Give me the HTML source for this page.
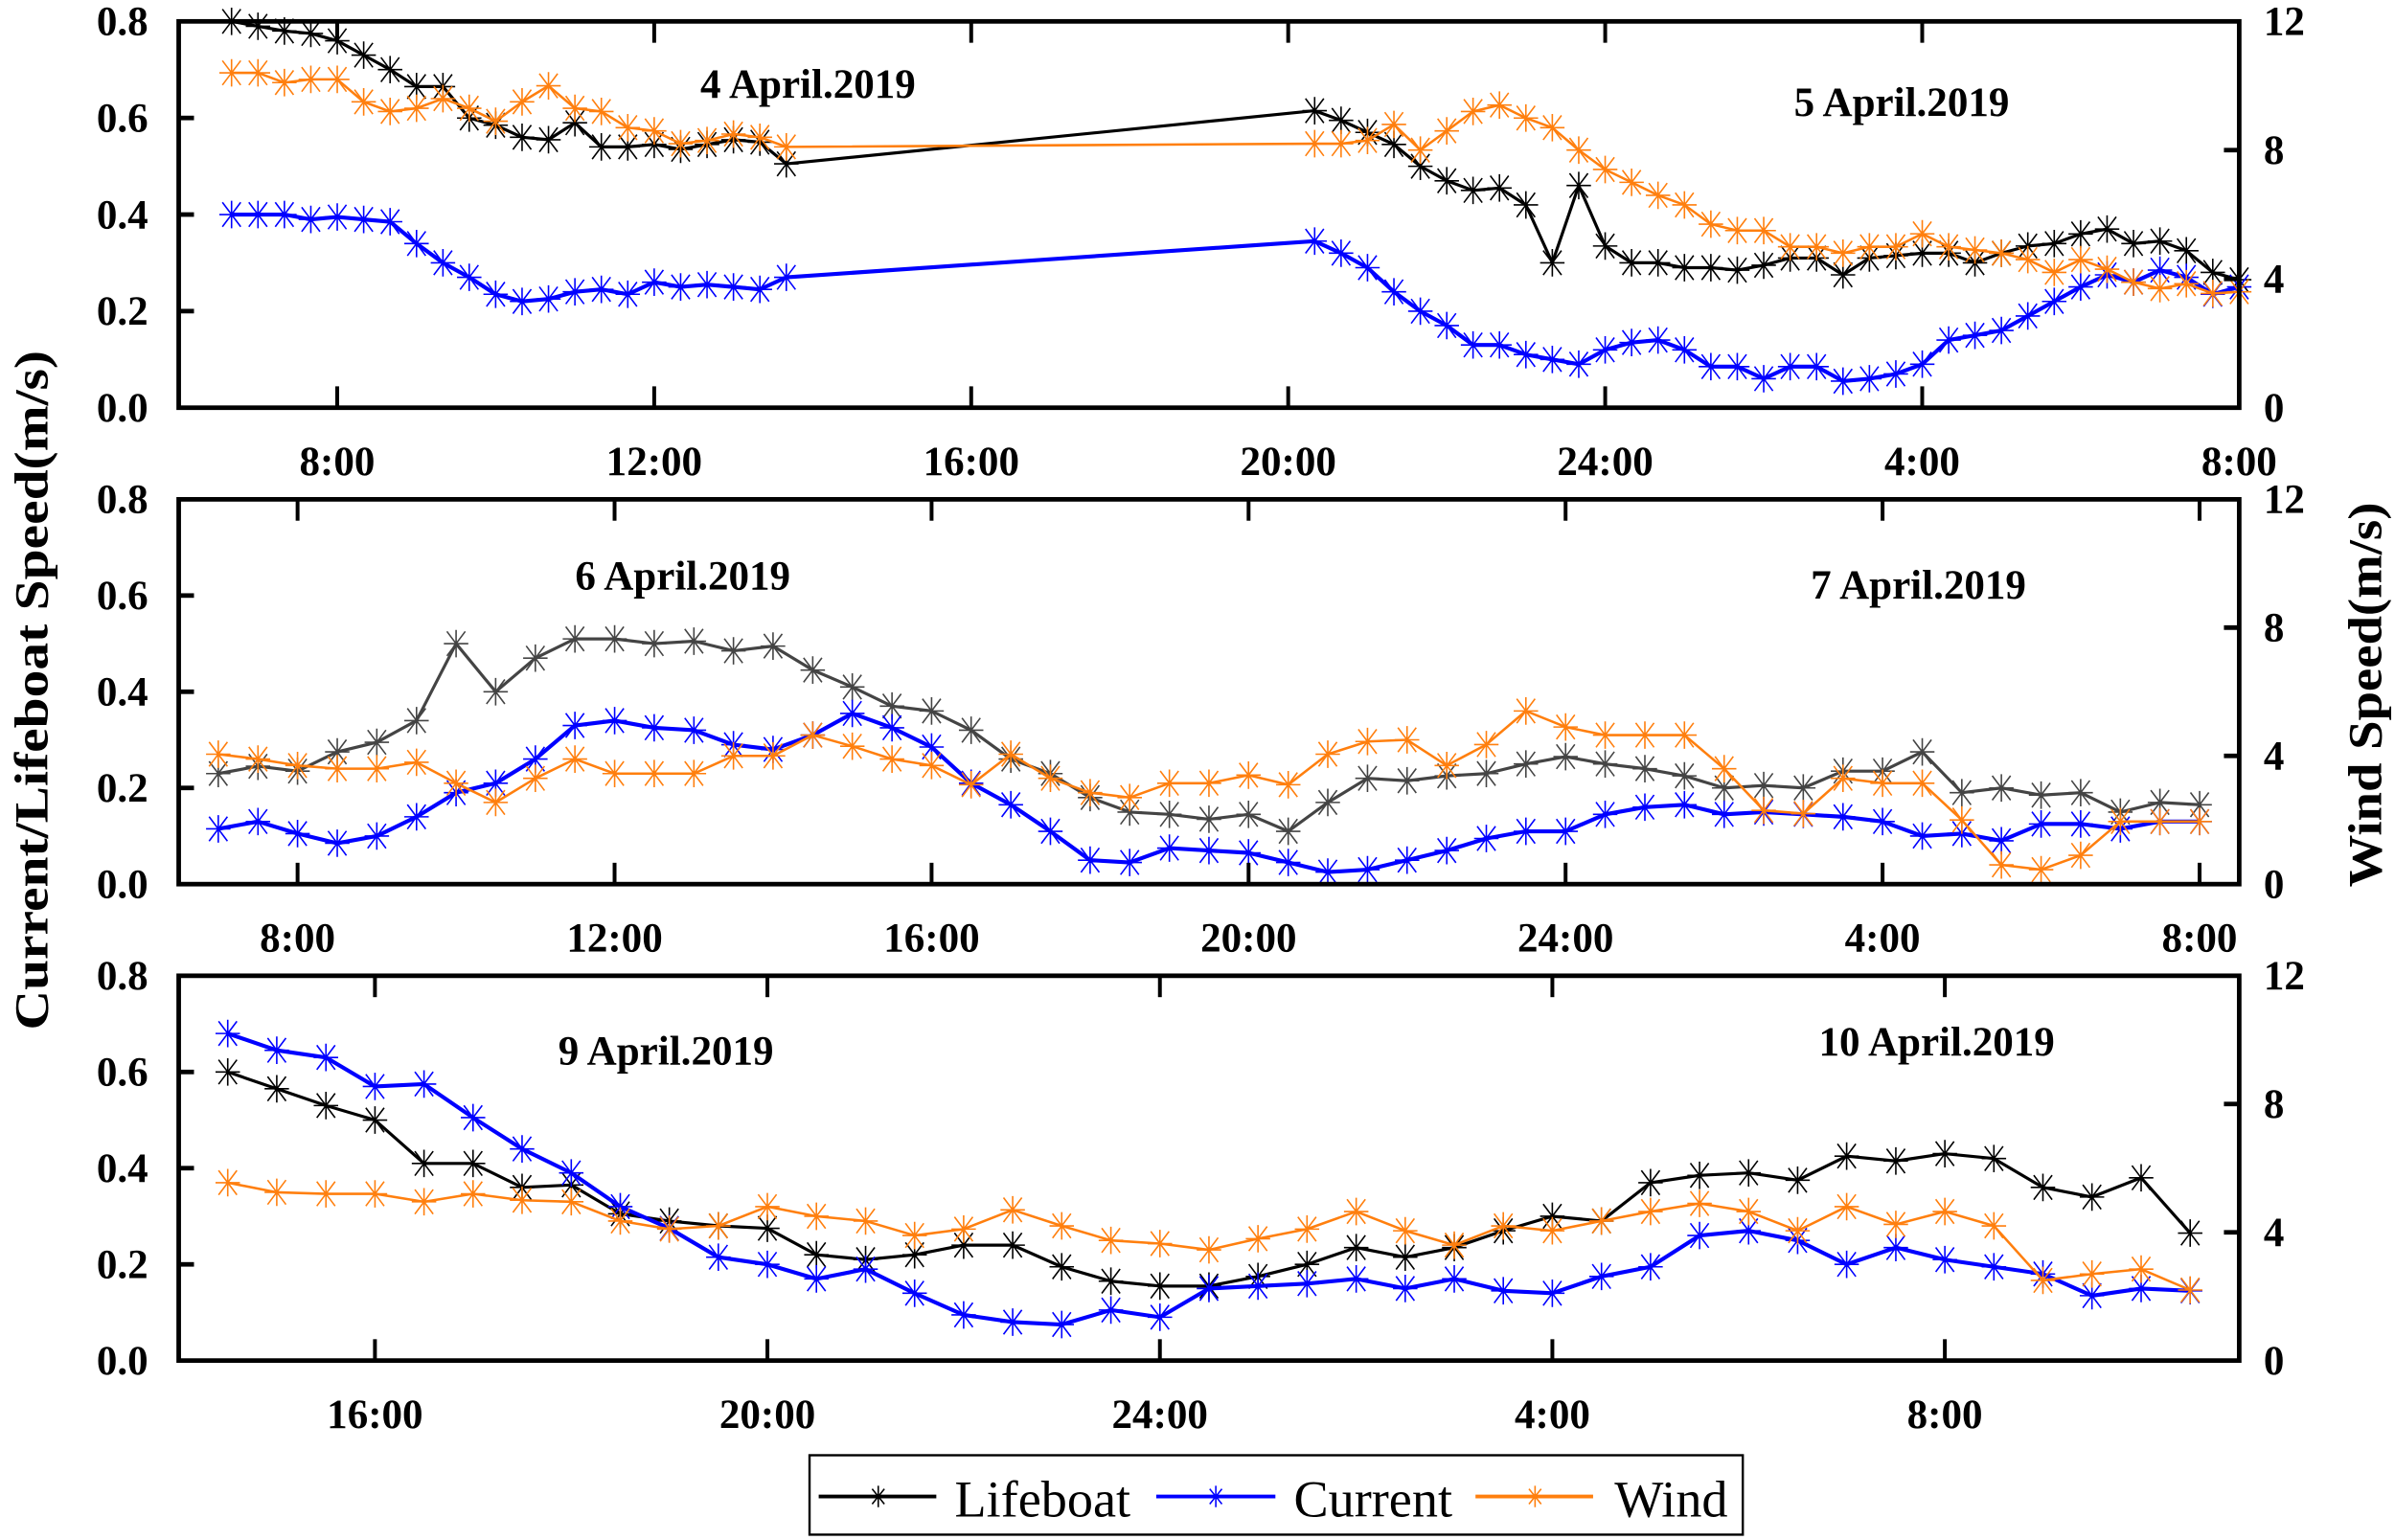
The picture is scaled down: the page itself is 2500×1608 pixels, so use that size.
<!DOCTYPE html>
<html><head><meta charset="utf-8"><style>
html,body{margin:0;padding:0;background:#fff;}
svg{display:block;}
text{font-family:"Liberation Serif",serif;}
</style></head><body>
<svg id="chart" xmlns="http://www.w3.org/2000/svg" width="2500" height="1608" viewBox="0 0 1568 1008.5" preserveAspectRatio="none">
<rect x="0" y="0" width="1568" height="1008.5" fill="#fff"/>
<g id="panels"></g>
<text x="0" y="0" transform="translate(31,452) rotate(-90)" text-anchor="middle" font-size="31" font-weight="bold" font-family="Liberation Serif, serif" textLength="445" lengthAdjust="spacingAndGlyphs">Current/Lifeboat Speed(m/s)</text>
<text x="0" y="0" transform="translate(1559,455) rotate(-90)" text-anchor="middle" font-size="31" font-weight="bold" font-family="Liberation Serif, serif" textLength="252" lengthAdjust="spacingAndGlyphs">Wind Speed(m/s)</text>
<g>
<rect x="530" y="953" width="611" height="52" fill="#fff" stroke="#000" stroke-width="1.5"/>
<g>
<line x1="536" y1="980" x2="613" y2="980" stroke="#000" stroke-width="2.5"/>
<path d="M575 973V987M571 975L579 985M579 975L571 985" stroke="#000" stroke-width="1"/>
<text x="625" y="993" font-size="34" font-family="Liberation Serif, serif">Lifeboat</text></g>
<g>
<line x1="757" y1="980" x2="835" y2="980" stroke="#0000ff" stroke-width="2.5"/>
<path d="M796 973V987M792 975L800 985M800 975L792 985" stroke="#0000ff" stroke-width="1"/>
<text x="847" y="993" font-size="34" font-family="Liberation Serif, serif">Current</text></g>
<g>
<line x1="966" y1="980" x2="1043" y2="980" stroke="#ff7f0e" stroke-width="2.5"/>
<path d="M1005 973V987M1001 975L1009 985M1009 975L1001 985" stroke="#ff7f0e" stroke-width="1"/>
<text x="1057" y="993" font-size="34" font-family="Liberation Serif, serif">Wind</text></g>
</g>
</svg>
<script>
// ---------- data ----------
const xTickHoursA = [8,12,16,20,24,28,32];
const xTickLabelsA = ["8:00","12:00","16:00","20:00","24:00","4:00","8:00"];
const xTickHoursC = [16,20,24,28,32];
const xTickLabelsC = ["16:00","20:00","24:00","4:00","8:00"];
const leftTicks = [0,0.2,0.4,0.6,0.8];
const leftTickLabels = ["0.0","0.2","0.4","0.6","0.8"];
const rightTicks = [0,4,8,12];
const rightTickLabels = ["0","4","8","12"];
const dateLabels = ["4 April.2019","5 April.2019","6 April.2019","7 April.2019","9 April.2019","10 April.2019"];

const p1StartA = 6.6667, p1StartB = 20.3333, p1Step = 1/3;
const p1LifeboatA = [0.80,0.79,0.78,0.775,0.76,0.73,0.70,0.665,0.665,0.60,0.585,0.56,0.555,0.59,0.54,0.54,0.545,0.535,0.545,0.555,0.55,0.505];
const p1CurrentA = [0.40,0.40,0.40,0.39,0.395,0.39,0.385,0.34,0.30,0.27,0.235,0.22,0.225,0.24,0.245,0.235,0.26,0.25,0.255,0.25,0.245,0.27];
const p1WindA = [10.4,10.4,10.1,10.2,10.2,9.5,9.2,9.3,9.6,9.3,8.9,9.5,10.0,9.3,9.2,8.7,8.6,8.2,8.3,8.5,8.4,8.1];
const p1LifeboatB = [0.615,0.595,0.57,0.545,0.50,0.47,0.45,0.455,0.42,0.30,0.46,0.335,0.30,0.30,0.29,0.29,0.285,0.295,0.31,0.31,0.275,0.31,0.315,0.32,0.32,0.30,0.32,0.335,0.34,0.36,0.37,0.34,0.345,0.325,0.28,0.265];
const p1CurrentB = [0.345,0.32,0.29,0.24,0.20,0.17,0.13,0.13,0.11,0.10,0.09,0.12,0.135,0.14,0.12,0.085,0.085,0.06,0.085,0.085,0.055,0.06,0.07,0.09,0.14,0.15,0.16,0.19,0.22,0.25,0.275,0.26,0.285,0.27,0.235,0.25];
const p1WindB = [8.2,8.2,8.3,8.8,8.0,8.6,9.2,9.4,9.0,8.7,8.0,7.4,7.0,6.6,6.3,5.7,5.5,5.5,5.0,5.0,4.8,5.0,5.0,5.4,5.0,4.9,4.8,4.6,4.2,4.6,4.3,3.9,3.7,3.85,3.55,3.6];

const p2Start = 7.0, p2Step = 0.5;
const p2Lifeboat = [0.23,0.245,0.235,0.275,0.295,0.34,0.50,0.40,0.47,0.51,0.51,0.50,0.505,0.485,0.495,0.445,0.41,0.37,0.36,0.32,0.26,0.23,0.18,0.15,0.145,0.135,0.145,0.11,0.17,0.22,0.215,0.225,0.23,0.25,0.265,0.25,0.24,0.225,0.20,0.205,0.20,0.235,0.235,0.275,0.19,0.20,0.185,0.19,0.15,0.17,0.165];
const p2Current = [0.115,0.13,0.105,0.085,0.10,0.14,0.19,0.21,0.26,0.33,0.34,0.325,0.32,0.29,0.28,0.31,0.355,0.325,0.285,0.21,0.165,0.11,0.05,0.045,0.075,0.07,0.065,0.045,0.025,0.03,0.05,0.07,0.095,0.11,0.11,0.145,0.16,0.165,0.145,0.15,0.145,0.14,0.13,0.10,0.105,0.09,0.125,0.125,0.115,0.13,0.13];
const p2Wind = [4.05,3.9,3.7,3.6,3.6,3.8,3.15,2.55,3.3,3.9,3.45,3.45,3.45,4.0,4.0,4.65,4.3,3.9,3.7,3.1,4.05,3.3,2.85,2.7,3.15,3.15,3.4,3.1,4.05,4.45,4.5,3.7,4.35,5.4,4.9,4.65,4.65,4.65,3.6,2.3,2.2,3.3,3.15,3.15,2.0,0.6,0.45,0.9,1.95,1.95,1.95];

const p3Start = 14.5, p3Step = 0.5;
const p3Lifeboat = [0.60,0.565,0.53,0.50,0.41,0.41,0.36,0.365,0.305,0.29,0.28,0.275,0.22,0.21,0.22,0.24,0.24,0.195,0.165,0.155,0.155,0.175,0.20,0.235,0.215,0.235,0.27,0.30,0.29,0.37,0.385,0.39,0.375,0.425,0.415,0.43,0.42,0.36,0.34,0.38,0.265];
const p3Current = [0.68,0.645,0.63,0.57,0.575,0.505,0.44,0.39,0.32,0.275,0.215,0.20,0.17,0.19,0.14,0.095,0.08,0.075,0.105,0.09,0.15,0.155,0.16,0.17,0.15,0.17,0.145,0.14,0.175,0.195,0.26,0.27,0.25,0.20,0.235,0.21,0.195,0.18,0.135,0.15,0.145];
const p3Wind = [5.55,5.25,5.2,5.2,4.95,5.2,5.0,4.95,4.35,4.1,4.2,4.8,4.5,4.35,3.9,4.1,4.7,4.2,3.75,3.65,3.45,3.8,4.1,4.65,4.05,3.6,4.2,4.05,4.35,4.65,4.9,4.65,4.05,4.8,4.25,4.65,4.2,2.5,2.7,2.85,2.2];

// ---------- drawing ----------
const NS = "http://www.w3.org/2000/svg";
const root = document.getElementById("panels");
function mk(tag, attrs, parent){
  const e = document.createElementNS(NS, tag);
  for (const k in attrs) e.setAttribute(k, attrs[k]);
  (parent||root).appendChild(e);
  return e;
}
const L = 117, R = 1466;
function times(start, step, n){ const t=[]; for(let i=0;i<n;i++) t.push(start+i*step); return t; }

function series(g, tArr, vArr, xf, yf, color, width, name){
  const pts = tArr.map((t,i)=>[xf(t), yf(vArr[i])]);
  const pl = mk("polyline", {points: pts.map(p=>p[0].toFixed(1)+","+p[1].toFixed(1)).join(" "), fill:"none", stroke:color, "stroke-width":width, "stroke-linejoin":"round"}, g);
  
  
  let d = "";
  pts.forEach(p=>{
    const x=p[0], y=p[1];
    d += `M${x.toFixed(1)} ${(y-9).toFixed(1)}V${(y+9).toFixed(1)}M${(x-6).toFixed(1)} ${(y-8).toFixed(1)}L${(x+6).toFixed(1)} ${(y+8).toFixed(1)}M${(x+6).toFixed(1)} ${(y-8).toFixed(1)}L${(x-6).toFixed(1)} ${(y+8).toFixed(1)}M${(x-8).toFixed(1)} ${y.toFixed(1)}H${(x+8).toFixed(1)}`;
  });
  const mkr = mk("path", {d:d, stroke:color, "stroke-width":1, fill:"none"}, g);
  
  
}

function panel(idx, top, bottom, h0, h1, tickHours, tickLabels, labelY, lbColor, data, dates){
  const g = mk("g", {});
  
  
  const xf = h => L + (h-h0)*(R-L)/(h1-h0);
  const yl = v => bottom - v/0.8*(bottom-top);
  const yr = w => bottom - w/12*(bottom-top);
  series(g, data.tl, data.lb, xf, yl, lbColor, 2, 'lifeboat-series-'+idx);
  series(g, data.tc, data.cu, xf, yl, "#0000ff", 2.6, 'current-series-'+idx);
  series(g, data.tw, data.wi, xf, yr, "#ff7f0e", 1.6, 'wind-series-'+idx);
  const fr = mk("rect", {x:L, y:top, width:R-L, height:bottom-top, fill:"none", stroke:"#000", "stroke-width":3}, g);
  
  
  tickHours.forEach((h,i)=>{
    const x = xf(h);
    mk("line", {x1:x, y1:top, x2:x, y2:top+14, stroke:"#000", "stroke-width":2.5}, g);
    mk("line", {x1:x, y1:bottom, x2:x, y2:bottom-14, stroke:"#000", "stroke-width":2.5}, g);
    const t = mk("text", {x:x, y:labelY, "text-anchor":"middle", "font-size":27, "font-weight":"bold"}, g);
    t.textContent = tickLabels[i];
    
    
  });
  leftTicks.forEach((v,i)=>{
    const y = yl(v);
    if (v>0 && v<0.8) mk("line", {x1:L, y1:y, x2:L+10, y2:y, stroke:"#000", "stroke-width":3}, g);
    const t = mk("text", {x:97, y:y+9, "text-anchor":"end", "font-size":27, "font-weight":"bold"}, g);
    t.textContent = leftTickLabels[i];
    
    
  });
  rightTicks.forEach((w,i)=>{
    const y = yr(w);
    if (w>0 && w<12) mk("line", {x1:R, y1:y, x2:R-10, y2:y, stroke:"#000", "stroke-width":3}, g);
    const t = mk("text", {x:1482, y:y+9, "text-anchor":"start", "font-size":27, "font-weight":"bold"}, g);
    t.textContent = rightTickLabels[i];
    
    
  });
  dates.forEach(d=>{
    const t = mk("text", {x:d[1], y:d[2], "text-anchor":"middle", "font-size":27, "font-weight":"bold"}, g);
    t.textContent = d[0];
    
    
  });
}

const p1tA = times(p1StartA, p1Step, p1LifeboatA.length);
const p1tB = times(p1StartB, p1Step, p1LifeboatB.length);
const p1t = p1tA.concat(p1tB);
panel(1, 14, 267, 6, 32, xTickHoursA, xTickLabelsA, 311, "#000",
  {tl:p1t, lb:p1LifeboatA.concat(p1LifeboatB), tc:p1t, cu:p1CurrentA.concat(p1CurrentB), tw:p1t, wi:p1WindA.concat(p1WindB)},
  [[dateLabels[0],529,64],[dateLabels[1],1245,76]]);
const p2t = times(p2Start, p2Step, p2Lifeboat.length);
panel(2, 327, 579, 6.5, 32.5, xTickHoursA, xTickLabelsA, 623, "#444",
  {tl:p2t, lb:p2Lifeboat, tc:p2t, cu:p2Current, tw:p2t, wi:p2Wind},
  [[dateLabels[2],447,386],[dateLabels[3],1256,392]]);
const p3t = times(p3Start, p3Step, p3Lifeboat.length);
panel(3, 639, 891, 14, 35, xTickHoursC, xTickLabelsC, 935, "#000",
  {tl:p3t, lb:p3Lifeboat, tc:p3t, cu:p3Current, tw:p3t, wi:p3Wind},
  [[dateLabels[4],436,697],[dateLabels[5],1268,691]]);
</script>
</body></html>
